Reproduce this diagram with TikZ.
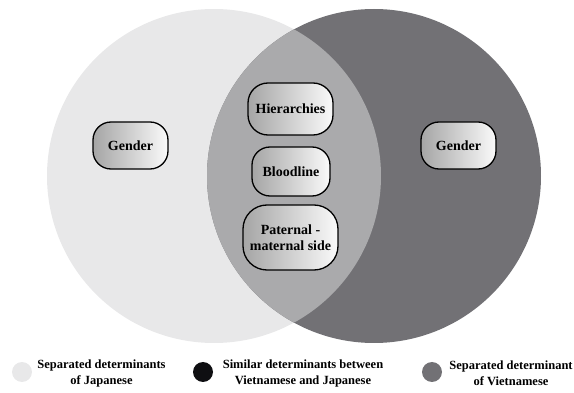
\documentclass[tikz,border=0pt]{standalone}
\usepackage{fontspec}
\setmainfont{Liberation Serif}[BoldFont={Liberation Serif Bold}]
\begin{document}
\begin{tikzpicture}[x=1pt,y=-1pt,
  setlight/.style={fill={rgb,255:red,232;green,232;blue,233}},
  setdark/.style={fill={rgb,255:red,114;green,113;blue,117}},
  setmid/.style={fill={rgb,255:red,170;green,170;blue,172}},
  pill/.style={draw=black, line width=1.3pt, rounded corners=#1,
    left color={rgb,255:red,165;green,165;blue,165}, right color={rgb,255:red,250;green,250;blue,250},
    inner sep=0pt, align=center,
    font=\fontsize{14}{15.5}\selectfont\bfseries},
  pill/.default=18pt,
  legtext/.style={align=center, font=\fontsize{12.5}{16}\selectfont\bfseries},
  legdot/.style={circle, minimum size=20pt, inner sep=0pt}]
  \useasboundingbox (0,0) rectangle (574,393);
  % the two sets
  \fill[setlight] (214,176) circle[radius=167];
  \fill[setdark] (374,176) circle[radius=167];
  \begin{scope}
    \clip (214,176) circle[radius=167];
    \fill[setmid] (374,176) circle[radius=167];
  \end{scope}
  % determinants
  \node[pill, minimum width=75pt, minimum height=47pt] (genj) at (130.5,145.5) {Gender};
  \node[pill, minimum width=75pt, minimum height=47pt] (genv) at (458.5,145.5) {Gender};
  \node[pill=20pt, minimum width=85pt, minimum height=52pt] (hier) at (290.5,109) {Hierarchies};
  \node[pill, minimum width=78pt, minimum height=49pt] (blood) at (291,171.5) {Bloodline};
  \node[pill=24pt, minimum width=95pt, minimum height=65pt] (pat) at (290.5,237.5) {Paternal -\\maternal side};
  % legend
  \node[legdot, setlight] (d1) at (22,372) {};
  \node[legtext] (t1) at (101.5,373) {Separated determinants\\of Japanese};
  \node[legdot, fill={rgb,255:red,15;green,15;blue,18}] (d2) at (203,372) {};
  \node[legtext] (t2) at (303,373) {Similar determinants between\\Vietnamese and Japanese};
  \node[legdot, setdark] (d3) at (432,372) {};
  \node[legtext] (t3) at (511,373) {Separated determinant\\of Vietnamese};
\end{tikzpicture}
\end{document}
